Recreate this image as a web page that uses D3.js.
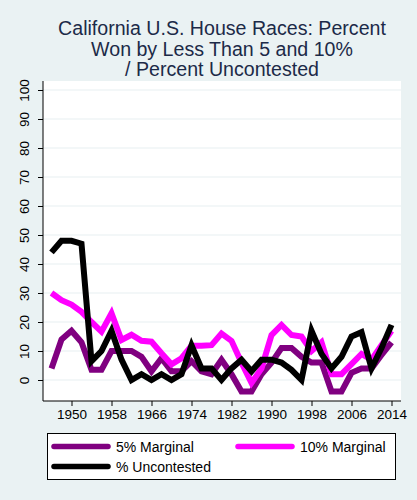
<!DOCTYPE html>
<html lang="en">
<head>
<meta charset="utf-8">
<title>California U.S. House Races</title>
<script src="https://cdn.jsdelivr.net/npm/d3@7"></script>
<style type="text/css">
  body {margin:0; background:#eaf2f3;}
  svg {display:block; font-family:"Liberation Sans", Arial, sans-serif;}
</style>
</head>
<body>
<svg width="417" height="500"></svg>

<script type="text/javascript">

// election years, every 2 years
var years = [1946,1948,1950,1952,1954,1956,1958,1960,1962,1964,1966,1968,1970,1972,1974,1976,1978,
  1980,1982,1984,1986,1988,1990,1992,1994,1996,1998,2000,2002,2004,2006,2008,2010,2012,2014];

// percent of races won by less than 5 points
var marginal5 = [4,14,17,13,3.5,3.5,10,10,10,8,3,7.5,3,3,6.5,3,2,
  7,2,-4,-4,2,6,11,11,8,6,6,-4,-4,2.5,4,4,8.6,13];

// percent won by less than 10 points
var marginal10 = [30,27.5,26,23.5,20,16.7,23,13.8,15.6,13.5,13.2,9.2,5.4,7.5,11.8,11.8,12,
  16,13.5,6,-1,4,15.5,19,15.5,15,10,13,2,2,5.5,9,7,12,17];

// percent uncontested
var uncontested = [44,48,48,47,6.5,10,17,7,0,2,0,2,0,2,12,4,4,
  0,4,7,3,7,7,6,3.5,0,17,9,4,8,15,16.5,4,11,19];

var yTicks = [0,10,20,30,40,50,60,70,80,90,100];
var xTicks = [1950,1958,1966,1974,1982,1990,1998,2006,2014];

var titleLines = ["California U.S. House Races: Percent", "Won by Less Than 5 and 10%", "/ Percent Uncontested"];

var seriesNames = ["5% Marginal", "10% Marginal", "% Uncontested"];
var seriesColors = ["#800080", "#ff00ff", "#000000"];

var svg = d3.select("svg");

var plotLeft = 43, plotRight = 401, plotTop = 81, plotBottom = 401;

var x = d3.scaleLinear().domain([1946, 2014]).range([51.5, 391.5]);
var y = d3.scaleLinear().domain([0, 100]).range([380, 90]);

// plot region
svg.append("rect")
  .attr("x", plotLeft).attr("y", plotTop)
  .attr("width", plotRight - plotLeft).attr("height", plotBottom - plotTop)
  .attr("fill", "#ffffff");

// gridlines
svg.append("g").selectAll("line")
  .data(yTicks)
  .enter().append("line")
  .attr("x1", plotLeft).attr("x2", plotRight)
  .attr("y1", function(d) { return y(d); })
  .attr("y2", function(d) { return y(d); })
  .attr("stroke", "#e7eff1")
  .attr("stroke-width", 1.2);

// title
svg.append("g").selectAll("text")
  .data(titleLines)
  .enter().append("text")
  .attr("x", 222)
  .attr("y", function(d, i) { return 35 + i * 20.5; })
  .attr("text-anchor", "middle")
  .attr("font-size", "19.6px")
  .attr("fill", "#1c2a48")
  .text(function(d) { return d; });

// axes
var yAxis = d3.axisLeft(y).tickValues(yTicks).tickSize(5).tickSizeOuter(0);
var gy = svg.append("g").attr("transform", "translate(" + plotLeft + ",0)").call(yAxis);
gy.select(".domain").remove();
gy.append("line")
  .attr("x1", 0).attr("x2", 0)
  .attr("y1", plotTop).attr("y2", plotBottom)
  .attr("stroke", "#000");
// labels turned on their side, centred on the tick
gy.selectAll(".tick text")
  .attr("font-size", "13.5px")
  .attr("fill", "#000")
  .attr("text-anchor", "middle")
  .attr("transform", "rotate(-90)")
  .attr("x", 0)
  .attr("y", -14)
  .attr("dy", "0");

var xAxis = d3.axisBottom(x).tickValues(xTicks).tickFormat(d3.format("d")).tickSize(5).tickPadding(3).tickSizeOuter(0);
var gx = svg.append("g").attr("transform", "translate(0," + plotBottom + ")").call(xAxis);
gx.select(".domain").remove();
gx.append("line")
  .attr("x1", plotLeft).attr("x2", plotRight)
  .attr("y1", 0).attr("y2", 0)
  .attr("stroke", "#000");
gx.selectAll(".tick text").attr("font-size", "13.5px").attr("fill", "#000");

// lines
var allSeries = [marginal5, marginal10, uncontested];
var line = d3.line()
  .x(function(d, i) { return x(years[i]); })
  .y(function(d) { return y(d); });

svg.append("g").selectAll("path")
  .data(allSeries)
  .enter().append("path")
  .attr("d", function(d) { return line(d); })
  .attr("fill", "none")
  .attr("stroke", function(d, i) { return seriesColors[i]; })
  .attr("stroke-width", 6);

// legend
var legend = svg.append("g");
legend.append("rect")
  .attr("x", 47.5).attr("y", 433.5)
  .attr("width", 348).attr("height", 46)
  .attr("fill", "#fff")
  .attr("stroke", "#000")
  .attr("stroke-width", 1);

var legendPos = [[52, 446.5], [236, 446.5], [52, 466.5]];
var items = legend.selectAll("g.item")
  .data(seriesNames)
  .enter().append("g")
  .attr("class", "item")
  .attr("transform", function(d, i) { return "translate(" + legendPos[i][0] + "," + legendPos[i][1] + ")"; });
items.append("line")
  .attr("x1", 2).attr("x2", 56)
  .attr("stroke", function(d, i) { return seriesColors[i]; })
  .attr("stroke-width", 5.5)
  .attr("stroke-linecap", "round");
items.append("text")
  .attr("x", 64).attr("y", 5)
  .attr("font-size", "14px")
  .attr("fill", "#000")
  .text(function(d) { return d; });

</script>
</body>
</html>
